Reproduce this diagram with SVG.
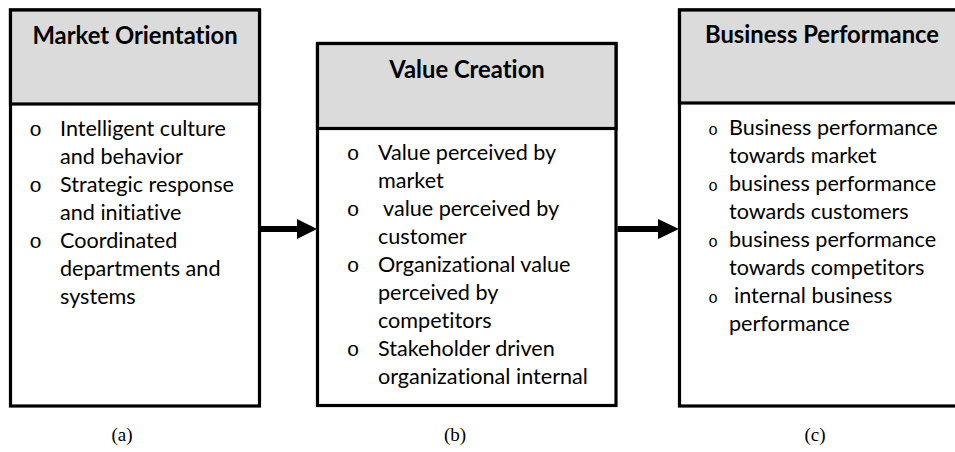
<svg xmlns="http://www.w3.org/2000/svg" width="955" height="452" viewBox="0 0 955 452">
<style>
.box{fill:#ffffff;stroke:#000;stroke-width:3.2}
.hdr{fill:#dbdbdb;stroke:#000;stroke-width:3.2}
.ht{font-family:Lato,"Liberation Sans",sans-serif;font-weight:bold;font-size:23.8px;fill:#000;text-anchor:middle;font-variant-ligatures:none}
.bt{font-family:Lato,"Liberation Sans",sans-serif;font-size:21.6px;fill:#000;font-variant-ligatures:none}
.bl{font-family:"Liberation Mono","DejaVu Sans Mono",monospace;font-size:21px;fill:#000;text-anchor:middle}
.bs{font-family:"Liberation Mono","DejaVu Sans Mono",monospace;font-size:16px;fill:#000;text-anchor:middle}
.cap{font-family:"Liberation Serif","Times New Roman",serif;font-size:19px;fill:#000;text-anchor:middle}
.conn{stroke:#000;stroke-width:6;fill:none}
</style>
<g id="node-a">
<rect class="box" x="10.5" y="10" width="249" height="396"/>
<rect class="hdr" x="10.5" y="10" width="249" height="94"/>
<text class="ht" x="135" y="44">Market Orientation</text>
<text class="bl" x="35.5" y="136">o</text>
<text class="bt" x="60" y="136">Intelligent culture</text>
<text class="bt" x="60" y="164">and behavior</text>
<text class="bl" x="35.5" y="192">o</text>
<text class="bt" x="60" y="192">Strategic response</text>
<text class="bt" x="60" y="220">and initiative</text>
<text class="bl" x="35.5" y="248">o</text>
<text class="bt" x="60" y="248">Coordinated</text>
<text class="bt" x="60" y="276">departments and</text>
<text class="bt" x="60" y="304">systems</text>
</g>
<g id="node-b">
<rect class="box" x="317.5" y="43.5" width="298.5" height="362"/>
<rect class="hdr" x="317.5" y="43.5" width="298.5" height="85"/>
<text class="ht" x="467" y="78">Value Creation</text>
<text class="bl" x="353" y="160">o</text>
<text class="bt" x="378" y="160">Value perceived by</text>
<text class="bt" x="378" y="188">market</text>
<text class="bl" x="353" y="216">o</text>
<text class="bt" x="383" y="216">value perceived by</text>
<text class="bt" x="378" y="244">customer</text>
<text class="bl" x="353" y="272">o</text>
<text class="bt" x="378" y="272">Organizational value</text>
<text class="bt" x="378" y="300">perceived by</text>
<text class="bt" x="378" y="328">competitors</text>
<text class="bl" x="353" y="356">o</text>
<text class="bt" x="378" y="356">Stakeholder driven</text>
<text class="bt" x="378" y="384">organizational internal</text>
</g>
<g id="node-c">
<rect class="box" x="679.5" y="10" width="290" height="396"/>
<rect class="hdr" x="679.5" y="10" width="290" height="93"/>
<text class="ht" x="822" y="43">Business Performance</text>
<text class="bs" x="713" y="135">o</text>
<text class="bt" x="729" y="135">Business performance</text>
<text class="bt" x="729" y="163">towards market</text>
<text class="bs" x="713" y="191">o</text>
<text class="bt" x="729" y="191">business performance</text>
<text class="bt" x="729" y="219">towards customers</text>
<text class="bs" x="713" y="247">o</text>
<text class="bt" x="729" y="247">business performance</text>
<text class="bt" x="729" y="275">towards competitors</text>
<text class="bs" x="713" y="303">o</text>
<text class="bt" x="734" y="303">internal business</text>
<text class="bt" x="729" y="331">performance</text>
</g>
<g id="connectors">
<line class="conn" x1="261" y1="229" x2="298" y2="229"/>
<polygon points="297,219 317,229 297,239" fill="#000"/>
<line class="conn" x1="617.5" y1="229" x2="659" y2="229"/>
<polygon points="658,219 679,229 658,239" fill="#000"/>
</g>
<g id="captions">
<text class="cap" x="122" y="441">(a)</text>
<text class="cap" x="455" y="441">(b)</text>
<text class="cap" x="815" y="441">(c)</text>
</g>
</svg>
